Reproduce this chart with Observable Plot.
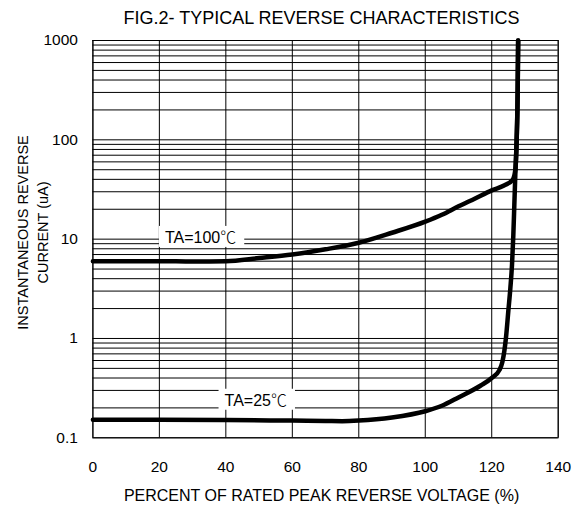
<!DOCTYPE html>
<html><head><meta charset="utf-8">
<script src="https://cdn.jsdelivr.net/npm/d3@7"></script>
<script src="https://cdn.jsdelivr.net/npm/@observablehq/plot@0.6"></script>
<style>body{margin:0;background:#fff}</style>
</head><body><div id="chart"></div>
<script>
// Percent of rated peak reverse voltage (%) and instantaneous reverse current (uA)
const pct25 = [0, 20, 40, 60, 70, 75, 80, 90, 100, 105, 110, 116.7, 120, 122.3, 123.2, 123.8, 124.3, 125.0, 125.6, 126.1, 126.5, 126.8, 127.1, 127.5, 127.8, 127.95];
const cur25 = [0.152, 0.152, 0.151, 0.149, 0.148, 0.147, 0.149, 0.16, 0.185, 0.21, 0.255, 0.336, 0.40, 0.48, 0.58, 0.75, 1.03, 1.9, 3.2, 5.5, 11, 22, 45, 100, 300, 1000];
const pct100 = [0, 20, 30, 40, 50, 60, 70, 80, 90, 100, 105, 110, 115, 120, 123.7, 126.3, 127.1, 127.5, 127.8, 127.95];
const cur100 = [6.0, 6.0, 5.95, 6.0, 6.45, 7.0, 7.9, 9.2, 11.6, 15, 17.6, 21.4, 25.7, 31, 34.7, 39.6, 50, 100, 300, 1000];

const xTicks = [0, 20, 40, 60, 80, 100, 120, 140];
const yTicks = [0.1, 1, 10, 100, 1000];
const yMultipliers = [1, 2, 3, 4, 5, 6, 7, 8, 9];
const yGrid = [0.1, 1, 10, 100].flatMap(d => yMultipliers.map(m => +(m * d).toPrecision(3))).concat([1000]);

const labelText = ["TA=100℃", "TA=25℃"];
const labelPct = [32.4, 49];
const labelCur = [10.2, 0.234];

const titleText = "FIG.2- TYPICAL REVERSE CHARACTERISTICS";
const xTitle = "PERCENT OF RATED PEAK REVERSE VOLTAGE (%)";
const yTitle = "INSTANTANEOUS REVERSE\nCURRENT (uA)";

const FONT = '"Liberation Sans", Arial, "Noto Sans CJK SC", sans-serif';

const series = [
  ...pct25.map((x, i) => ({x, y: cur25[i], s: "25"})),
  ...pct100.map((x, i) => ({x, y: cur100[i], s: "100"}))
];
const labels = labelText.map((t, i) => ({x: labelPct[i], y: labelCur[i], text: t}));

const plot = Plot.plot({
  width: 582, height: 509,
  marginLeft: 92.4, marginRight: 24.3, marginTop: 40, marginBottom: 71.7,
  style: {fontFamily: FONT, fontSize: "15.5px", color: "#000", background: "#fff"},
  x: {domain: [0, 140], ticks: xTicks, tickSize: 0, tickPadding: 23, label: null},
  y: {type: "log", domain: [0.1, 1000], ticks: yTicks, tickFormat: d => String(d), tickSize: 0, tickPadding: 15, label: null},
  marks: [
    Plot.ruleY(yGrid, {stroke: "#000", strokeWidth: 1}),
    Plot.ruleX(xTicks, {stroke: "#000", strokeWidth: 1}),
    Plot.frame({stroke: "#000", strokeWidth: 1}),
    Plot.line(series, {x: "x", y: "y", z: "s", stroke: "#000", strokeWidth: 4.5, curve: "monotone-x"}),
    Plot.text(labels, {x: "x", y: "y", text: "text", fontSize: 16, fill: "#000"}),
    Plot.text([titleText], {frameAnchor: "top", lineAnchor: "middle", dy: -22, dx: -4, fontSize: 18, fill: "#000", text: d => d}),
    Plot.text([xTitle], {frameAnchor: "bottom", lineAnchor: "middle", dy: 57.7, dx: -4, fontSize: 16, fill: "#000", text: d => d}),
    Plot.text([yTitle], {frameAnchor: "left", textAnchor: "middle", dx: -61.4, dy: -6.7, rotate: -90, fontSize: 14.5, lineHeight: 1.35, fill: "#000", text: d => d})
  ]
});
document.getElementById("chart").appendChild(plot);

// CJK degree-Celsius glyph and white boxes behind the curve labels
const textGroups = plot.querySelectorAll('g[aria-label="text"]');
if (textGroups.length) {
  const g = textGroups[0];
  g.querySelectorAll("text").forEach(t => {
    const s = t.textContent;
    const i = s.indexOf("℃");
    if (i >= 0) {
      t.textContent = s.slice(0, i);
      const ts = document.createElementNS("http://www.w3.org/2000/svg", "tspan");
      ts.setAttribute("font-family", '"Noto Sans CJK SC", sans-serif');
      ts.setAttribute("font-weight", "300");
      ts.textContent = "℃";
      t.appendChild(ts);
    }
    const b = t.getBBox();
    const r = document.createElementNS("http://www.w3.org/2000/svg", "rect");
    const cy = b.y + b.height / 2;
    r.setAttribute("x", b.x - 6);
    r.setAttribute("y", cy - 10.5);
    r.setAttribute("width", b.width + 14);
    r.setAttribute("height", 21);
    r.setAttribute("fill", "#fff");
    if (t.getAttribute("transform")) r.setAttribute("transform", t.getAttribute("transform"));
    g.insertBefore(r, t);
  });
}
</script>
</body></html>
